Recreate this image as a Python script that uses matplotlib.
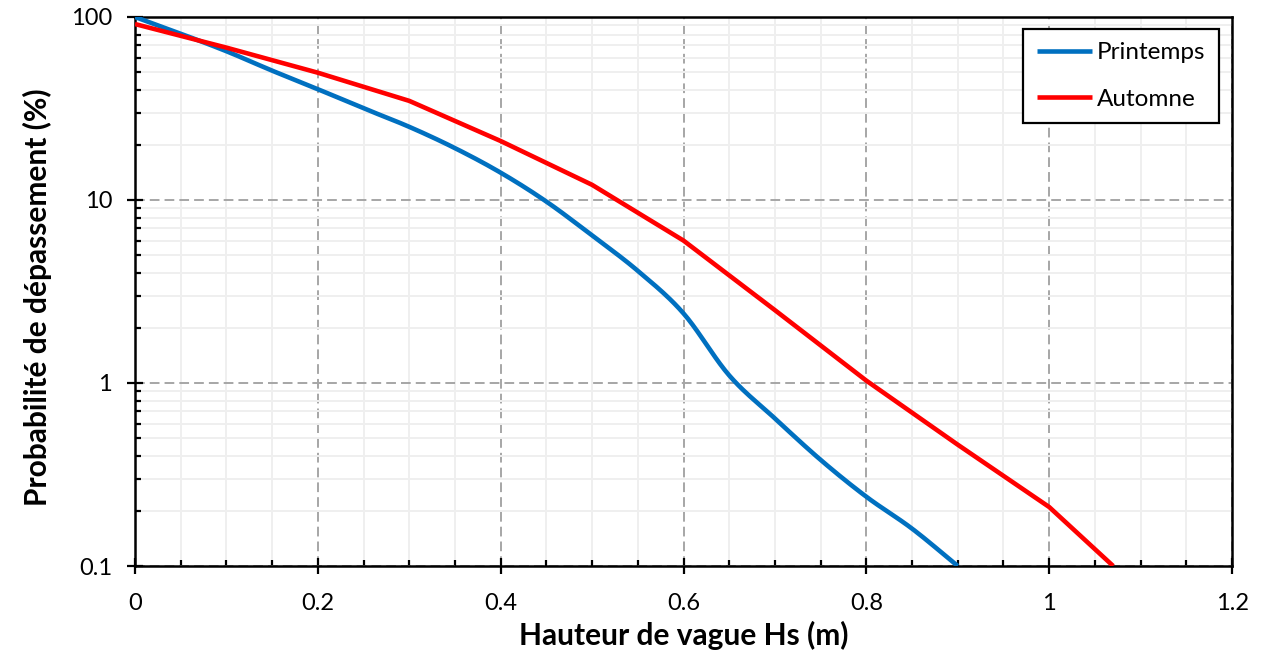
import numpy as np
import matplotlib
matplotlib.use("Agg")
import matplotlib.pyplot as plt
from matplotlib.ticker import FixedLocator, NullFormatter, LogLocator

plt.rcParams['font.family'] = ['Lato', 'DejaVu Sans']

# Wave height (m) and exceedance probability (%)
hs_spring = [0.0, 0.05, 0.10, 0.15, 0.20, 0.25, 0.30, 0.35, 0.40, 0.45,
             0.50, 0.55, 0.60, 0.65, 0.70, 0.75, 0.80, 0.85, 0.90]
p_spring = [100, 81, 65, 50.9, 40.3, 31.7, 25.1, 19.2, 14.1, 9.8,
            6.4, 4.1, 2.4, 1.1, 0.64, 0.38, 0.239, 0.16, 0.1]

hs_autumn = [0.0, 0.1, 0.2, 0.3, 0.4, 0.5, 0.6, 0.7, 0.8, 0.9, 1.0, 1.07]
p_autumn = [91.5, 68, 49.6, 34.8, 21.0, 12.1, 6.0, 2.5, 1.03, 0.46, 0.21, 0.1]

series_names = ["Printemps", "Automne"]
x_ticks = [0, 0.2, 0.4, 0.6, 0.8, 1.0, 1.2]
x_tick_labels = ["0", "0.2", "0.4", "0.6", "0.8", "1", "1.2"]
y_ticks = [0.1, 1, 10, 100]
y_tick_labels = ["0.1", "1", "10", "100"]


def smooth(x, y, n=20):
    """Catmull-Rom curve through the points, computed in (x, log y)."""
    x = np.asarray(x, float)
    ly = np.log10(np.asarray(y, float))
    px = np.concatenate([[2 * x[0] - x[1]], x, [2 * x[-1] - x[-2]]])
    py = np.concatenate([[2 * ly[0] - ly[1]], ly, [2 * ly[-1] - ly[-2]]])
    xs, ys = [], []
    t = np.linspace(0, 1, n, endpoint=False)
    for i in range(1, len(px) - 2):
        for arr, out in ((px, xs), (py, ys)):
            p0, p1, p2, p3 = arr[i - 1], arr[i], arr[i + 1], arr[i + 2]
            out.extend(0.5 * ((2 * p1) + (-p0 + p2) * t
                              + (2 * p0 - 5 * p1 + 4 * p2 - p3) * t ** 2
                              + (-p0 + 3 * p1 - 3 * p2 + p3) * t ** 3))
    xs.append(x[-1])
    ys.append(ly[-1])
    return np.array(xs), 10 ** np.array(ys)


fig = plt.figure(figsize=(12.77, 6.58), dpi=100)
ax = fig.add_axes([0.1057, 0.1398, 0.8591, 0.8344])

sx, sy = smooth(hs_spring, p_spring)
ax.plot(sx, sy, color="#0070C0", lw=3.3, label=series_names[0], zorder=4,
        solid_capstyle="butt")
ax.plot(hs_autumn, p_autumn, color="#FF0000", lw=3.3, label=series_names[1],
        zorder=5, solid_capstyle="butt")

ax.set_yscale("log")
ax.set_xlim(0, 1.2)
ax.set_ylim(0.1, 100)

ax.xaxis.set_major_locator(FixedLocator(x_ticks))
ax.set_xticklabels(x_tick_labels)
ax.xaxis.set_minor_locator(FixedLocator(np.arange(0, 1.2001, 0.05)))
ax.yaxis.set_major_locator(FixedLocator(y_ticks))
ax.set_yticklabels(y_tick_labels)
ax.yaxis.set_minor_locator(LogLocator(base=10, subs=np.arange(2, 10)))
ax.yaxis.set_minor_formatter(NullFormatter())

ax.grid(which="minor", color="#EFEFEF", lw=1.4, ls="-", zorder=0)
ax.grid(which="major", color="#A6A6A6", lw=1.4, ls=(0, (5, 2.6)), zorder=1)
ax.set_axisbelow(True)

ax.tick_params(which="major", direction="inout", length=11, width=1.6,
               labelsize=17, colors="black")
ax.tick_params(axis="x", which="major", pad=14)
ax.tick_params(axis="y", which="major", pad=11)
ax.tick_params(which="minor", direction="in", length=4.5, width=1.6)

for s in ax.spines.values():
    s.set_linewidth(1.8)
    s.set_color("black")

ax.set_xlabel("Hauteur de vague Hs (m)", fontsize=21.5, fontweight="bold")
ax.xaxis.label.set_va("baseline")
ax.xaxis.set_label_coords(0.5, -0.1439)

ax.set_ylabel("Probabilité de dépassement (%)", fontsize=21.5,
              fontweight="bold")
ax.yaxis.label.set_rotation_mode("anchor")
ax.yaxis.label.set_ha("center")
ax.yaxis.label.set_va("baseline")
ax.yaxis.set_label_coords(-0.0802, 0.489)

leg = ax.legend(loc="upper right", bbox_to_anchor=(0.988, 0.978),
                fontsize=17.5, frameon=True, fancybox=False, framealpha=1,
                edgecolor="black", handlelength=2.26, handletextpad=0.22,
                labelspacing=1.05, borderpad=0.55, borderaxespad=0)
leg.get_frame().set_linewidth(1.6)
leg.set_zorder(10)

fig.savefig("out.png", dpi=100, facecolor="white")
